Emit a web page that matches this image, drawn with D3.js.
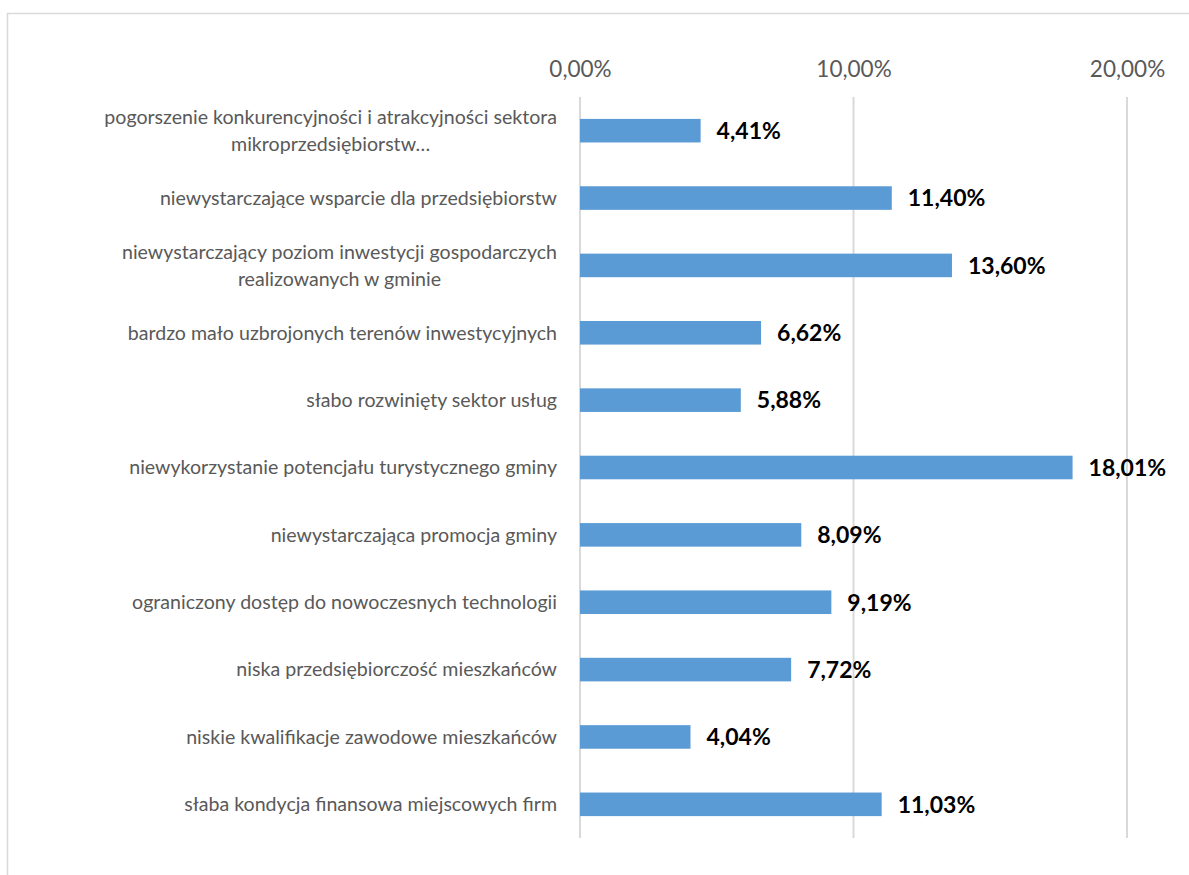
<!DOCTYPE html>
<meta charset="utf-8">
<style>
  body { margin: 0; background: #fff; }
  text { font-family: Lato, "Open Sans", sans-serif; }
  .tick text { fill: #595959; font-size: 22.5px; }
  .cat text { fill: #595959; font-size: 19.6px; }
  .val { fill: #000; font-size: 23px; font-weight: bold; }
</style>
<body>
<svg width="1189" height="875"></svg>
<script src="https://d3js.org/d3.v7.min.js"></script>
<script>
    // categories, top to bottom
    let categories = [
        ["pogorszenie konkurencyjności i atrakcyjności sektora", "mikroprzedsiębiorstw…"],
        ["niewystarczające wsparcie dla przedsiębiorstw"],
        ["niewystarczający poziom inwestycji gospodarczych", "realizowanych w gminie"],
        ["bardzo mało uzbrojonych terenów inwestycyjnych"],
        ["słabo rozwinięty sektor usług"],
        ["niewykorzystanie potencjału turystycznego gminy"],
        ["niewystarczająca promocja gminy"],
        ["ograniczony dostęp do nowoczesnych technologii"],
        ["niska przedsiębiorczość mieszkańców"],
        ["niskie kwalifikacje zawodowe mieszkańców"],
        ["słaba kondycja finansowa miejscowych firm"]
    ];
    let values = [4.41, 11.40, 13.60, 6.62, 5.88, 18.01, 8.09, 9.19, 7.72, 4.04, 11.03];
    let tickValues = [0, 10, 20];

    var svg = d3.select("svg");

    // chart frame
    svg.append("rect")
        .attr("x", 7.5).attr("y", 13.5)
        .attr("width", 1190).attr("height", 880)
        .attr("fill", "none")
        .attr("stroke", "#d9d9d9")
        .attr("stroke-width", 1.5);

    let plotLeft = 580, plotRight = 1127, plotTop = 97, plotBottom = 838;

    var x = d3.scaleLinear().domain([0, 20]).range([plotLeft, plotRight]);
    var y = d3.scaleBand()
        .domain(d3.range(values.length))
        .range([plotTop, plotBottom])
        .paddingInner(0.65)
        .paddingOuter(0.325);

    let fmt = v => d3.format(".2f")(v).replace(".", ",") + "%";

    // gridlines
    svg.append("g")
        .selectAll("line")
        .data(tickValues)
        .enter().append("line")
            .attr("x1", d => x(d)).attr("x2", d => x(d))
            .attr("y1", plotTop).attr("y2", plotBottom)
            .attr("stroke", "#d9d9d9")
            .attr("stroke-width", 2);

    // top axis
    var axis = svg.append("g")
        .attr("transform", "translate(0,77)")
        .call(d3.axisTop(x).tickValues(tickValues).tickSize(0).tickPadding(0).tickFormat(d => fmt(d)));
    axis.select(".domain").remove();
    axis.selectAll(".tick text").attr("font-family", null).attr("font-size", null);

    // bars
    svg.append("g")
        .selectAll("rect")
        .data(values)
        .enter().append("rect")
            .attr("x", x(0))
            .attr("y", (d, i) => y(i))
            .attr("width", d => x(d) - x(0))
            .attr("height", y.bandwidth())
            .attr("fill", "#5b9bd5");

    // value labels
    svg.append("g")
        .selectAll("text")
        .data(values)
        .enter().append("text")
            .attr("class", "val")
            .attr("x", d => x(d) + 16)
            .attr("y", (d, i) => y(i) + y.bandwidth() / 2)
            .attr("dy", "0.36em")
            .text(d => fmt(d));

    // category labels (wrapped lines centred as a block, block right-aligned)
    let labelRight = 557;
    let lineH = 27;
    var cat = svg.append("g").attr("class", "cat");
    categories.forEach(function(lines, i) {
        let cy = y(i) + y.bandwidth() / 2;
        let g = cat.append("g");
        let texts = lines.map(function(s, k) {
            return g.append("text")
                .attr("y", cy + (k - (lines.length - 1) / 2) * lineH)
                .attr("dy", "0.35em")
                .text(s);
        });
        let w = d3.max(texts, t => t.node().getComputedTextLength());
        texts.forEach(t => t.attr("x", labelRight - w / 2).attr("text-anchor", "middle"));
    });
</script>
</body>
